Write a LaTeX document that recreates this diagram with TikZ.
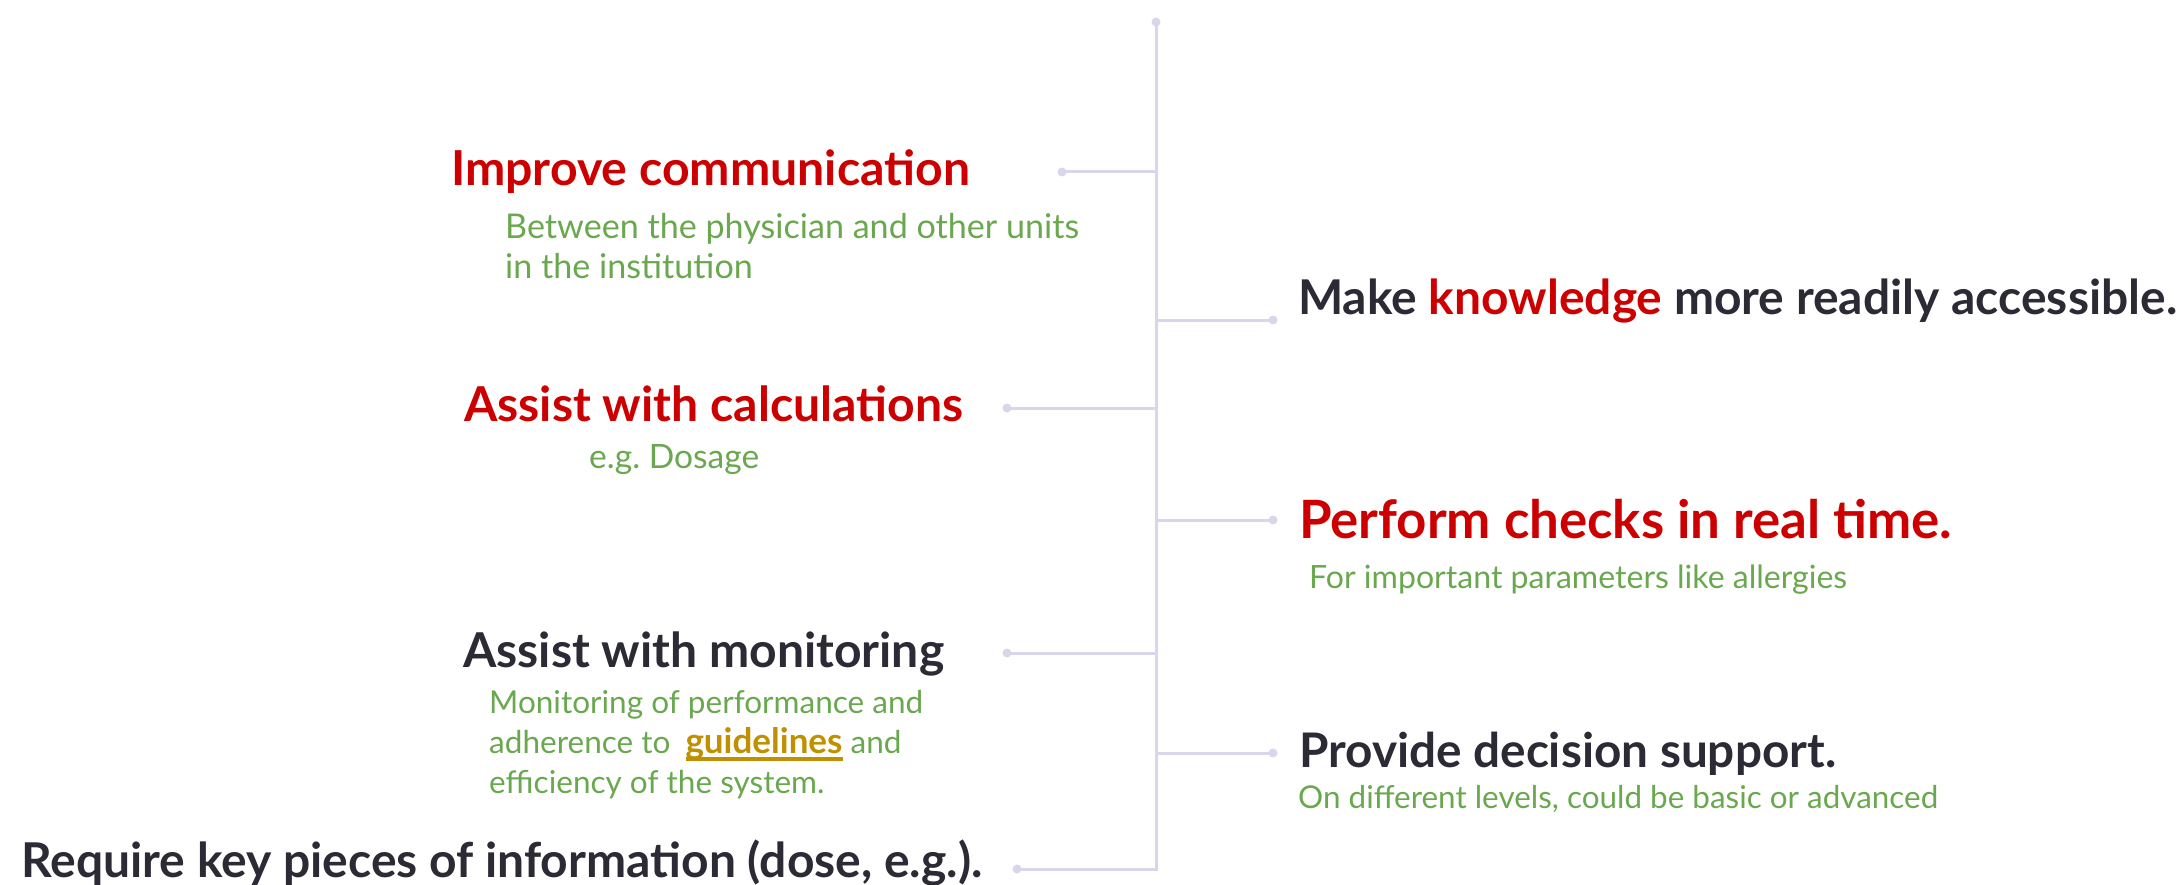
\documentclass[tikz,border=0pt]{standalone}
\usepackage{fontspec}
\setmainfont{Lato}

\definecolor{hlred}{HTML}{CC0000}
\definecolor{notegreen}{HTML}{6AA84F}
\definecolor{inkdark}{HTML}{2B2A35}
\definecolor{gold}{HTML}{BF9000}
\definecolor{stem}{HTML}{D9D5EB}

% choose the font size at which #2 is #1 pt wide
\newlength\fitlen
\newcommand\fitsize[2]{%
  \settowidth\fitlen{\fontsize{10pt}{12pt}\selectfont #2}%
  \pgfmathsetmacro\fitpt{10*#1/\fitlen}%
  \fontsize{\fitpt pt}{40pt}\selectfont}
\newcommand\fitted[2]{\fitsize{#1}{#2}#2}

% thick underline used for the highlighted word
\newcommand\goldline[1]{\setbox0\hbox{#1}\rlap{\rule[-8pt]{\wd0}{4pt}}\box0}

\tikzset{
  head/.style={anchor=base west, inner sep=0pt, font=\bfseries},
  % multi-line notes are placed by the baseline of their last line
  note/.style={anchor=base west, inner sep=0pt, align=left, text=notegreen},
  stemline/.style={draw=stem, line width=3pt},
  knob/.style={fill=stem},
}

\begin{document}
\begin{tikzpicture}[x=1pt, y=-1pt]
\useasboundingbox (0,0) rectangle (2184,885);

% spine and branch points
\coordinate (top) at (1156,22);
\coordinate (bot) at (1156,869);
\coordinate (j1) at (1156,172);
\coordinate (j2) at (1156,320);
\coordinate (j3) at (1156,408);
\coordinate (j4) at (1156,520);
\coordinate (j5) at (1156,653);
\coordinate (j6) at (1156,753);
\coordinate (d1) at (1062,172);
\coordinate (d2) at (1273,320);
\coordinate (d3) at (1007,408);
\coordinate (d4) at (1273,520);
\coordinate (d5) at (1007,653);
\coordinate (d6) at (1273,753);
\coordinate (d7) at (1017,869);

\draw[stemline] (top) -- (bot) -- (d7);
\foreach \j/\d in {j1/d1, j2/d2, j3/d3, j4/d4, j5/d5, j6/d6}
  \draw[stemline] (\j) -- (\d);
\foreach \d in {top, d1, d2, d3, d4, d5, d6, d7}
  \fill[knob] (\d) circle (4.5pt);

% left column
\node[head, text=hlred] (comm) at (451,186) {\fitted{519}{Improve communication}};
\node[note, font={\fitsize{574}{Between the physician and other units}}] (commnote) at (505,279)
  {Between the physician and other units\\in the institution};

\node[head, text=hlred] (calc) at (464,421) {\fitted{499}{Assist with calculations}};
\node[note, font={\fitsize{170}{e.g.\ Dosage}}] (calcnote) at (589,468) {e.g.\ Dosage};

\node[head, text=inkdark] (mon) at (463,667) {\fitted{481}{Assist with monitoring}};
\node[note, font={\fitsize{434}{Monitoring of performance and}}] (monnote) at (489,793)
  {Monitoring of performance and\\
   adherence to\hspace{7pt} {\color{gold}\bfseries\fitsize{157}{guidelines}\goldline{guidelines}} and\\
   efficiency of the system.};

\node[head, text=inkdark] (req) at (21,877) {\fitted{961}{Require key pieces of information (dose, e.g.).}};

% right column
\node[head, text=inkdark] (know) at (1298,314)
  {\fitsize{879}{Make knowledge more readily accessible.}Make \textcolor{hlred}{knowledge} more readily accessible.};

\node[head, text=hlred] (check) at (1299,538) {\fitted{653}{Perform checks in real time.}};
\node[note, font={\fitsize{538}{For important parameters like allergies}}] (checknote) at (1309,588)
  {For important parameters like allergies};

\node[head, text=inkdark] (dec) at (1299,767) {\fitted{537}{Provide decision support.}};
\node[note, font={\fitsize{640}{On different levels, could be basic or advanced}}] (decnote) at (1298,808)
  {On different levels, could be basic or advanced};
\end{tikzpicture}
\end{document}
